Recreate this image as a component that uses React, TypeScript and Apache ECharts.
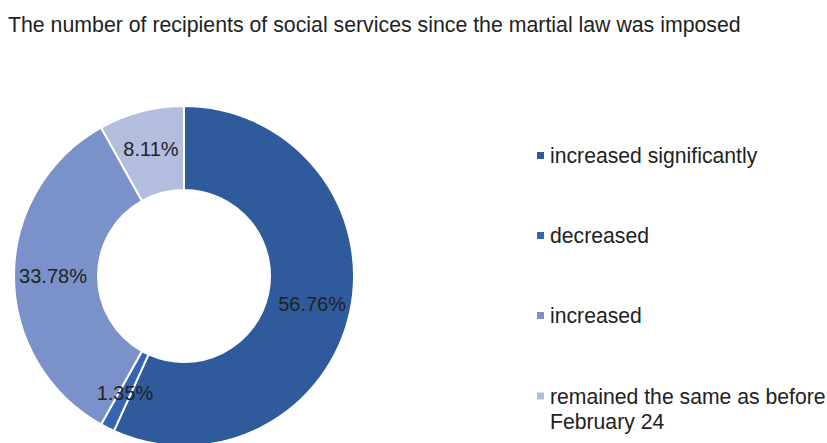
import React, { useEffect, useRef } from "react";
import * as echarts from "echarts";

const title = "The number of recipients of social services since the martial law was imposed";
const categories = [
  "increased significantly",
  "decreased",
  "increased",
  "remained the same as before February 24",
];
const legendLabels = [
  "increased significantly",
  "decreased",
  "increased",
  "remained the same as before\nFebruary 24",
];
const values = [56.76, 1.35, 33.78, 8.11];
const colors = ["#2F5A9C", "#3565B2", "#7A92C9", "#B3BEDF"];

const FONT = "'Liberation Sans', Arial, Helvetica, sans-serif";

export default function App() {
  const ref = useRef<HTMLDivElement>(null);
  useEffect(() => {
    document.body.style.margin = "0";
    const chart = echarts.init(ref.current!, undefined, { renderer: "svg" });
    const legendTops = [145, 225, 305];
    const legends: any[] = categories.slice(0, 3).map((name, i) => ({
      data: [name],
      left: 535,
      top: legendTops[i],
      padding: 0,
      orient: "vertical",
      icon: "rect",
      itemWidth: 9,
      itemHeight: 9,
      itemGap: 0,
      selectedMode: false,
      formatter: () => legendLabels[i],
      textStyle: { fontSize: 21.2, color: "#222", fontFamily: FONT },
    }));
    legends.push({
      data: [categories[3]],
      left: 535,
      top: 384,
      padding: 0,
      orient: "vertical",
      icon: "path://M0,0h9v9h-9z M0,35h0.01v0.01h-0.01z",
      itemWidth: 9,
      itemHeight: 35,
      selectedMode: false,
      formatter: () => legendLabels[3],
      textStyle: { fontSize: 21.2, lineHeight: 25, color: "#222", fontFamily: FONT },
    });
    chart.setOption({
      animation: false,
      color: colors,
      title: {
        text: title,
        left: 3,
        top: 9,
        textStyle: { fontSize: 21.3, fontWeight: "normal", color: "#222", fontFamily: FONT },
      },
      legend: legends,
      series: [
        {
          type: "pie",
          center: [184, 276],
          radius: [86, 170],
          startAngle: 90,
          clockwise: true,
          avoidLabelOverlap: false,
          itemStyle: { borderColor: "#fff", borderWidth: 2 },
          label: {
            show: true,
            position: "inside",
            fontSize: 20,
            color: "#222",
            fontFamily: FONT,
            formatter: (p: any) => p.value.toFixed(2) + "%",
          },
          labelLine: { show: false },
          emphasis: { disabled: true },
          data: categories.map((name, i) => ({ name, value: values[i] })),
        },
      ],
    });
    return () => chart.dispose();
  }, []);
  return <div ref={ref} style={{ width: 827, height: 443 }} />;
}
